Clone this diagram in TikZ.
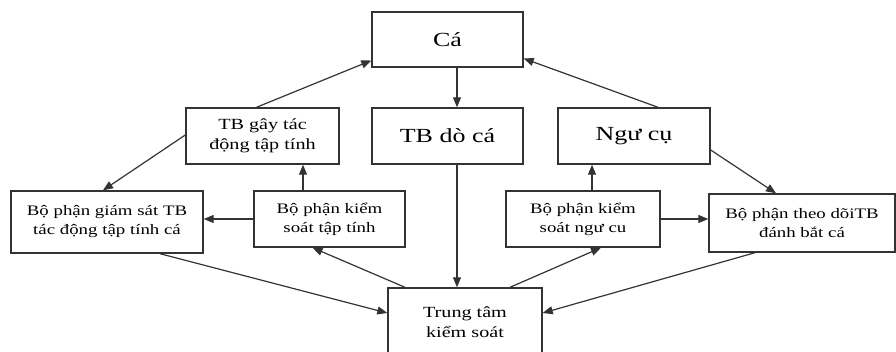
\documentclass[tikz,border=0pt]{standalone}
\usepackage{fontspec}
\setmainfont{Liberation Serif}[FakeStretch=1.3]
\usetikzlibrary{arrows.meta}

\begin{document}
\begin{tikzpicture}[%
    x=1pt, y=-1pt,                        % Pixel grid, y going down
    >={Triangle[length=10pt,width=8pt]},  % Filled arrow heads
    ]
% -------------------------------------------------
% A few box styles
\tikzset{
  base/.style={draw=black!80, line width=1.4pt, align=center, inner sep=0pt},
  big/.style={base, font=\fontsize{20}{24}\selectfont},
  mid/.style={base, font=\fontsize{15.5}{19.5}\selectfont},
  sml/.style={base, font=\fontsize{14.5}{19}\selectfont},
  % Connector line style
  norm/.style={->, draw=black!80, line width=1.2pt},
}
\useasboundingbox (0,0) rectangle (896,352);
% -------------------------------------------------
% Start by placing the nodes
\node [big, minimum width=151pt, minimum height=55pt] (ca) at (447.5,39.5) {Cá};
% middle row
\node [mid, minimum width=153pt, minimum height=56pt] (gay) at (262.5,136)
  {TB gây tác\\động tập tính};
\node [big, minimum width=151pt, minimum height=56pt] (doca) at (447.5,136) {TB dò cá};
\node [big, minimum width=152pt, minimum height=56pt] (nguc) at (634,136) {Ngư cụ};
% lower row
\node [sml, minimum width=192pt, minimum height=62pt] (giamsat) at (107,222)
  {Bộ phận giám sát TB\\tác động tập tính cá};
\node [sml, minimum width=151pt, minimum height=56pt] (kstt) at (329.5,219)
  {Bộ phận kiểm\\soát tập tính};
\node [sml, minimum width=154pt, minimum height=56pt] (ksnc) at (583,219)
  {Bộ phận kiểm\\soát ngư cu};
\node [sml, minimum width=186pt, minimum height=58pt] (theodoi) at (802,223)
  {Bộ phận theo dõiTB\\đánh bắt cá};
% centre at the bottom
\node [mid, minimum width=154pt, minimum height=68pt] (tt) at (465,322)
  {Trung tâm\\kiểm soát};

% -------------------------------------------------
% Connectors
\draw [norm] ([xshift=-6pt]gay.north) -- ([yshift=-21pt]ca.west);
\draw [norm] ([xshift=24pt]nguc.north) -- ([yshift=-19pt]ca.east);
\draw [norm] ([xshift=9.5pt]ca.south) -- ([xshift=9.5pt]doca.north);
\draw [norm] ([xshift=9.5pt]doca.south) -- ([xshift=9.5pt]doca.south |- tt.north);
\draw [norm] ([yshift=1pt]gay.west) -- ([xshift=-4pt]giamsat.north);
\draw [norm] ([yshift=-14pt]nguc.east) -- ([xshift=-26pt]theodoi.north);
\draw [norm] ([xshift=-26.5pt]kstt.north) -- ([xshift=-26.5pt]kstt.north |- gay.south);
\draw [norm] ([xshift=9pt]ksnc.north) -- ([xshift=9pt]ksnc.north |- nguc.south);
\draw [norm] (kstt.west) -- (kstt.west -| giamsat.east);
\draw [norm] (ksnc.east) -- (ksnc.east -| theodoi.west);
\draw [norm] ([xshift=53pt]giamsat.south) -- ([yshift=9pt]tt.west);
\draw [norm] ([xshift=-47pt]theodoi.south) -- ([yshift=9pt]tt.east);
\draw [norm] ([xshift=-60pt]tt.north) -- ([xshift=-17pt]kstt.south);
\draw [norm] ([xshift=45pt]tt.north) -- ([xshift=18pt]ksnc.south);
% -------------------------------------------------
\end{tikzpicture}
\end{document}
